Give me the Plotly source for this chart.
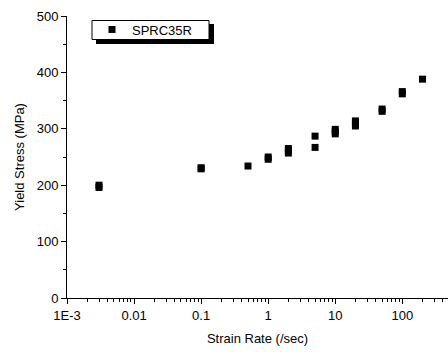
import plotly.graph_objects as go
import numpy as np

strain_rate = [0.003, 0.003, 0.1, 0.1, 0.5, 1, 1, 2, 2, 2, 5, 5, 10, 10, 10, 20, 20, 20, 50, 50, 100, 100, 200]
yield_stress = [196, 200, 229, 231, 234, 246, 250, 257, 262, 265, 267, 287, 291, 295, 299, 305, 310, 314, 331, 335, 362, 366, 388]

x_tickvals = [0.001, 0.01, 0.1, 1, 10, 100]
x_ticktext = ["1E-3", "0.01", "0.1", "1", "10", "100"]
y_tickvals = [0, 100, 200, 300, 400, 500]
x_minor_vals = [d * m for d in [0.001, 0.01, 0.1, 1, 10, 100] for m in range(2, 10)]

FONT = "Liberation Sans, Arial, sans-serif"

fig = go.Figure()
fig.add_trace(go.Scatter(
    x=strain_rate, y=yield_stress, mode="markers", name="SPRC35R",
    marker=dict(symbol="square", size=7, color="black", line=dict(width=0)),
))

# plot area in pixels: x 67..448, y 16..298
L, R, T, B = 67, 448, 16, 298
W, H = 448, 352

def px2paper_x(px):
    return (px - L) / (R - L)

def px2paper_y(py):
    return (B - py) / (B - T)

# legend shadow and box
fig.add_shape(type="rect", xref="paper", yref="paper", layer="above",
              x0=px2paper_x(96), x1=px2paper_x(214), y0=px2paper_y(44), y1=px2paper_y(24),
              fillcolor="black", line=dict(width=0))
fig.add_shape(type="rect", xref="paper", yref="paper", layer="above",
              x0=px2paper_x(92), x1=px2paper_x(209), y0=px2paper_y(39.5), y1=px2paper_y(20.5),
              fillcolor="white", line=dict(width=1, color="black"))

fig.update_layout(
    width=W, height=H,
    margin=dict(l=L, r=W - R, t=T, b=H - B),
    paper_bgcolor="white", plot_bgcolor="white",
    font=dict(family=FONT, size=13, color="black"),
    showlegend=True,
    legend=dict(
        x=px2paper_x(92), y=px2paper_y(14.5), xref="paper", yref="paper",
        xanchor="left", yanchor="top",
        bgcolor="rgba(0,0,0,0)", borderwidth=0,
        font=dict(family=FONT, size=13, color="black"),
        tracegroupgap=0,
    ),
    xaxis=dict(
        type="log", range=[-3, np.log10(480)],
        tickvals=x_tickvals, ticktext=x_ticktext,
        ticks="outside", ticklen=5, tickwidth=1, tickcolor="black",
        showline=True, linecolor="black", linewidth=1,
        showgrid=False, zeroline=False,
        minor=dict(ticks="outside", ticklen=3, tickwidth=1, tickcolor="black",
                   tickvals=x_minor_vals, showgrid=False),
        title=dict(text="Strain Rate (/sec)", font=dict(size=13), standoff=12),
        tickfont=dict(size=13),
    ),
    yaxis=dict(
        range=[0, 500],
        tickvals=y_tickvals,
        ticks="outside", ticklen=5, tickwidth=1, tickcolor="black",
        showline=True, linecolor="black", linewidth=1,
        showgrid=False, zeroline=False,
        minor=dict(ticks="outside", ticklen=3, tickwidth=1, tickcolor="black",
                   dtick=50, showgrid=False),
        title=dict(text="Yield Stress (MPa)", font=dict(size=13), standoff=9),
        tickfont=dict(size=13),
    ),
)

fig.write_html("out.html")
